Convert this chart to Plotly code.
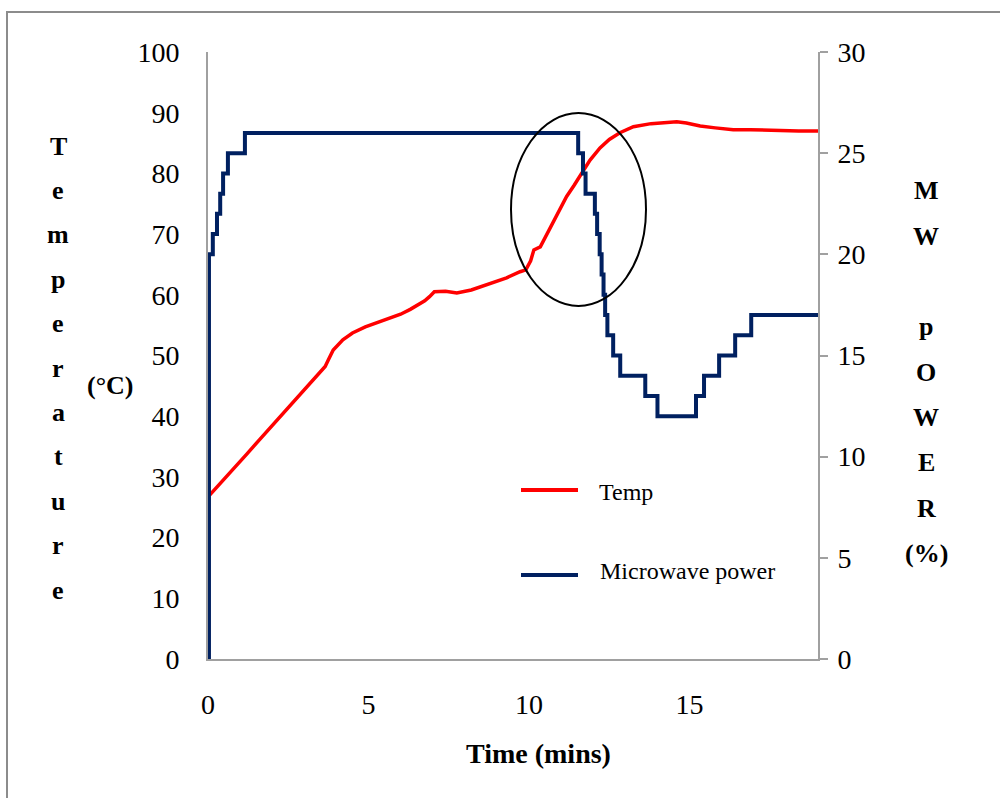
import plotly.graph_objects as go

# ---------------- data ----------------
time_temp = [0.05, 0.4, 0.8, 1.2, 1.6, 2.0, 2.4, 2.8, 3.2, 3.5, 3.65, 3.75, 3.9, 4.2,
             4.5, 4.9, 5.3, 5.6, 6.0, 6.3, 6.6, 6.75, 6.9, 7.05, 7.4, 7.75, 8.2, 8.8,
             9.3, 9.72, 9.9, 10.05, 10.15, 10.35, 10.55, 10.76, 10.95, 11.17, 11.4,
             11.59, 11.9, 12.21, 12.5, 12.83, 13.25, 13.8, 14.2, 14.6, 14.9, 15.33,
             15.8, 16.36, 16.9, 17.4, 17.9, 18.4, 19.0]
temp = [27.0, 29.0, 31.4, 33.7, 36.1, 38.5, 40.8, 43.2, 45.6, 47.4, 48.2, 49.3, 50.9, 52.6,
        53.7, 54.7, 55.5, 56.0, 56.8, 57.6, 58.6, 59.0, 59.7, 60.5, 60.6, 60.3, 60.8, 61.9,
        62.8, 63.8, 64.1, 65.6, 67.4, 67.9, 69.9, 72.3, 74.1, 76.2, 78.0,
        79.6, 82.2, 84.2, 85.6, 86.7, 87.7, 88.2, 88.4, 88.5, 88.3, 87.8,
        87.5, 87.2, 87.2, 87.1, 87.1, 87.0, 87.0]

time_power = [0, 0.03, 0.15, 0.28, 0.38, 0.47, 0.62, 1.15, 11.53, 11.68, 11.76, 12.05,
              12.12, 12.2, 12.26, 12.32, 12.37, 12.44, 12.62, 12.84, 13.62, 14.0, 15.2,
              15.45, 15.92, 16.42, 16.92, 19.0]
power = [0, 20, 21, 22, 23, 24, 25, 26, 25, 24, 23, 22,
         21, 20, 19, 18, 17, 16, 15, 14, 13, 12, 13,
         14, 15, 16, 17, 17]

left_title = list("Temperature")
right_title = ["M", "W", "", "p", "O", "W", "E", "R", "(%)"]

# ---------------- layout helpers ----------------
W, H = 1000, 798
L, R, T, B = 208, 182, 52, 139
PW, PH = W - L - R, H - T - B


def px(x):
    return (x - L) / PW


def py(y):
    return (T + PH - y) / PH


RED = "#ff0000"
NAVY = "#002060"
GRAY = "#a0a0a0"
FONT = "Liberation Serif"

fig = go.Figure()
fig.add_trace(go.Scatter(x=time_temp, y=temp, mode="lines", name="Temp",
                         line=dict(color=RED, width=3.5), showlegend=False))
fig.add_trace(go.Scatter(x=time_power, y=power, mode="lines", name="Microwave power",
                         line=dict(color=NAVY, width=4, shape="hv"), yaxis="y2",
                         showlegend=False))

annotations = []
# left stacked title
for i, ch in enumerate(left_title):
    base = 154 + 44.4 * i
    annotations.append(dict(text=ch, x=px(58), y=py(base - 8), xref="paper", yref="paper",
                            showarrow=False, xanchor="center", yanchor="middle",
                            font=dict(family=FONT, size=26, color="black", weight="bold")))
annotations.append(dict(text="(°C)", x=px(110), y=py(386), xref="paper", yref="paper",
                        showarrow=False, xanchor="center", yanchor="middle",
                        font=dict(family=FONT, size=26, color="black", weight="bold")))
# right stacked title
for i, ch in enumerate(right_title):
    if not ch:
        continue
    base = 199 + 45.3 * i
    annotations.append(dict(text=ch, x=px(926), y=py(base - 8), xref="paper", yref="paper",
                            showarrow=False, xanchor="center", yanchor="middle",
                            font=dict(family=FONT, size=26, color="black", weight="bold")))
# x title
annotations.append(dict(text="Time (mins)", x=px(538), y=py(753), xref="paper", yref="paper",
                        showarrow=False, xanchor="center", yanchor="middle",
                        font=dict(family=FONT, size=28, color="black", weight="bold")))
# legend texts
annotations.append(dict(text="Temp", x=px(597), y=py(492), xref="paper", yref="paper",
                        showarrow=False, xanchor="left", yanchor="middle",
                        font=dict(family=FONT, size=24, color="black")))
annotations.append(dict(text="Microwave power", x=px(598), y=py(571), xref="paper", yref="paper",
                        showarrow=False, xanchor="left", yanchor="middle",
                        font=dict(family=FONT, size=24, color="black")))

shapes = [
    # outer frame
    dict(type="rect", xref="paper", yref="paper", x0=px(7), x1=px(1012), y0=py(812), y1=py(12),
         line=dict(color="#8c8c8c", width=2), layer="below"),
    # ellipse highlight
    dict(type="circle", xref="paper", yref="paper", x0=px(511), x1=px(646), y0=py(306), y1=py(113),
         line=dict(color="black", width=2)),
    # legend line samples
    dict(type="line", xref="paper", yref="paper", x0=px(521), x1=px(578), y0=py(490), y1=py(490),
         line=dict(color=RED, width=4)),
    dict(type="line", xref="paper", yref="paper", x0=px(521), x1=px(578), y0=py(575), y1=py(575),
         line=dict(color=NAVY, width=4)),
]

tickfont = dict(family=FONT, size=28, color="black")

fig.update_layout(
    width=W, height=H,
    margin=dict(l=L, r=R, t=T, b=B, pad=0),
    paper_bgcolor="white", plot_bgcolor="white",
    xaxis=dict(range=[0, 19], tickvals=[0, 5, 10, 15], showgrid=False, zeroline=False,
               showline=True, linecolor=GRAY, linewidth=2, ticks="", tickfont=tickfont,
               ticklabelstandoff=19),
    yaxis=dict(range=[0, 100], dtick=10, showgrid=False, zeroline=False,
               showline=True, linecolor=GRAY, linewidth=2, ticks="", tickfont=tickfont,
               ticklabelstandoff=21),
    yaxis2=dict(range=[0, 30], dtick=5, overlaying="y", side="right", showgrid=False,
                zeroline=False, showline=True, linecolor=GRAY, linewidth=2,
                ticks="outside", ticklen=8, tickcolor=GRAY, tickwidth=2, tickfont=tickfont,
                ticklabelstandoff=4),
    annotations=annotations,
    shapes=shapes,
    showlegend=False,
)

fig.write_html("out.html")
